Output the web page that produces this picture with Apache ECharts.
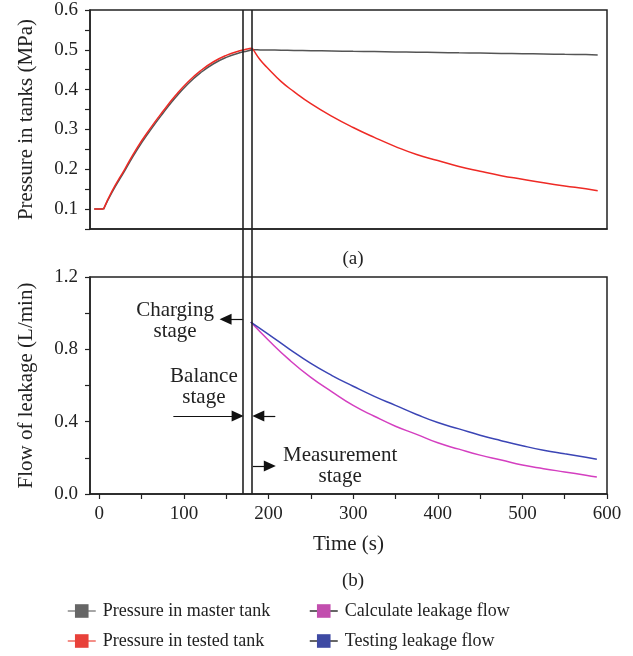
<!DOCTYPE html>
<html>
<head>
<meta charset="utf-8">
<script src="https://cdn.jsdelivr.net/npm/echarts@6/dist/echarts.min.js"></script>
<style>html,body{margin:0;padding:0;background:#fff;}#c{width:633px;height:656px;}</style>
</head>
<body>
<div id="c"></div>
<script>
// ---- data ----
const timeCharge   = [-6, 5, 15, 30, 45, 60, 75, 90, 105, 120, 135, 150, 165, 175, 180];
const masterCharge = [0.1, 0.1, 0.142, 0.196, 0.25, 0.297, 0.34, 0.38, 0.415, 0.443, 0.465, 0.481, 0.492, 0.497, 0.5];
const testedCharge = [0.1, 0.1, 0.145, 0.2, 0.255, 0.302, 0.345, 0.385, 0.42, 0.448, 0.47, 0.486, 0.497, 0.502, 0.504];
const timeHold     = [181, 190, 200, 215, 230, 250, 275, 300, 325, 350, 375, 400, 425, 450, 475, 500, 525, 550, 575, 589];
const masterHold   = [0.5, 0.4998, 0.4995, 0.499, 0.4985, 0.4978, 0.497, 0.4962, 0.4955, 0.4948, 0.494, 0.4933, 0.4925, 0.4918, 0.491, 0.4902, 0.4895, 0.4887, 0.488, 0.4872];
const testedHold   = [0.503, 0.475, 0.452, 0.42, 0.395, 0.365, 0.333, 0.305, 0.28, 0.257, 0.237, 0.222, 0.207, 0.195, 0.184, 0.175, 0.166, 0.158, 0.151, 0.146];
const timeMeasure  = [179, 200, 225, 250, 275, 300, 325, 350, 375, 400, 425, 450, 475, 500, 525, 550, 575, 588];
const calcFlow     = [0.951, 0.85, 0.74, 0.645, 0.565, 0.49, 0.43, 0.375, 0.33, 0.283, 0.248, 0.215, 0.188, 0.16, 0.14, 0.122, 0.104, 0.094];
const testFlow     = [0.951, 0.883, 0.80, 0.722, 0.655, 0.596, 0.54, 0.49, 0.44, 0.395, 0.36, 0.325, 0.295, 0.267, 0.242, 0.222, 0.203, 0.192];
const stageBounds  = [170, 180];
const xTickValues  = [0, 50, 100, 150, 200, 250, 300, 350, 400, 450, 500, 550, 600];
const xLabelValues = [0, 100, 200, 300, 400, 500, 600];
const seriesNames  = ['Pressure in master tank', 'Pressure in tested tank', 'Calculate leakage flow', 'Testing leakage flow'];
// annotation texts [t, value, text]
const stageTexts = [
  [89.5, 0.958, 'Charging\nstage'],
  [123.6, 0.59, 'Balance\nstage'],
  [284.6, 0.153, 'Measurement\nstage']
];
// annotation arrows [[tFrom, v], [tHead, v]]
const stageArrows = [
  [[170, 0.966], [149.2, 0.966]],
  [[87.5, 0.431], [163.5, 0.431]],
  [[208, 0.431], [187.9, 0.431]],
  [[181.4, 0.155], [201.5, 0.155]]
];

const zip = (xs, ys) => xs.map((x, i) => [x, ys[i]]);
const FONT = 'Liberation Serif';
const TXT = '#222';

const chart = echarts.init(document.getElementById('c'), null, {renderer: 'canvas', devicePixelRatio: 1});

const gridCommon = {left: 90, right: 26, show: true, borderColor: '#222', borderWidth: 1.5, backgroundColor: 'transparent'};
const axLine = {show: true, onZero: false, lineStyle: {color: '#222', width: 1.5}};

function topSeries(name, times, charge, holdTimes, hold, color, itemColor) {
  const common = {name: name, type: 'line', xAxisIndex: 0, yAxisIndex: 0,
    symbol: 'rect', symbolSize: 14, showSymbol: false,
    itemStyle: {color: itemColor}, lineStyle: {color: color, width: 1.5}};
  const pts = zip(times, charge);
  const holdPts = [pts[pts.length - 1]].concat(zip(holdTimes, hold));
  return [
    Object.assign({}, common, {smooth: false, data: pts.slice(0, 2)}),
    Object.assign({}, common, {smooth: true, data: pts.slice(1)}),
    Object.assign({}, common, {smooth: true, data: holdPts})
  ];
}

const option = {
  animation: false,
  backgroundColor: '#fff',
  textStyle: {fontFamily: FONT},
  title: [
    {text: '(a)', left: 348, top: 245, textAlign: 'center', textStyle: {fontFamily: FONT, fontSize: 19, fontWeight: 'normal', color: TXT}},
    {text: '(b)', left: 348, top: 567, textAlign: 'center', textStyle: {fontFamily: FONT, fontSize: 19, fontWeight: 'normal', color: TXT}}
  ],
  grid: [
    Object.assign({top: 10, height: 219}, gridCommon),
    Object.assign({top: 277, height: 217}, gridCommon),
    {left: 90, right: 26, top: 10, height: 484, show: false}
  ],
  xAxis: [
    {type: 'value', gridIndex: 0, min: -11, max: 600,
     axisLine: axLine, axisTick: {show: false}, axisLabel: {show: false}, splitLine: {show: false}},
    {type: 'value', gridIndex: 1, min: -11, max: 600,
     name: 'Time (s)', nameLocation: 'middle', nameGap: 40,
     nameTextStyle: {fontFamily: FONT, fontSize: 21, color: TXT},
     axisLine: axLine,
     axisTick: {show: true, inside: false, length: 5, customValues: xTickValues, lineStyle: {color: '#222', width: 1.2}},
     axisLabel: {show: true, customValues: xLabelValues, margin: 11, fontFamily: FONT, fontSize: 19, color: TXT},
     splitLine: {show: false}},
    {type: 'value', gridIndex: 2, min: -11, max: 600, show: false}
  ],
  yAxis: [
    {type: 'value', gridIndex: 0, min: 0.05, max: 0.6, interval: 0.05,
     name: 'Pressure in tanks (MPa)', nameLocation: 'middle', nameGap: 53,
     nameTextStyle: {fontFamily: FONT, fontSize: 21, color: TXT},
     axisLine: axLine,
     axisTick: {show: true, inside: false, length: 5, lineStyle: {color: '#222', width: 1.2}},
     axisLabel: {margin: 12, fontFamily: FONT, fontSize: 19, color: TXT,
       formatter: v => (Math.round(v * 100) % 10 === 0 ? v.toFixed(1) : '')},
     splitLine: {show: false}},
    {type: 'value', gridIndex: 1, min: 0, max: 1.2, interval: 0.2,
     name: 'Flow of leakage (L/min)', nameLocation: 'middle', nameGap: 53,
     nameTextStyle: {fontFamily: FONT, fontSize: 21, color: TXT},
     axisLine: axLine,
     axisTick: {show: true, inside: false, length: 5, lineStyle: {color: '#222', width: 1.2}},
     axisLabel: {margin: 12, fontFamily: FONT, fontSize: 19, color: TXT,
       formatter: v => (Math.round(v * 10) % 4 === 0 ? v.toFixed(1) : '')},
     splitLine: {show: false}},
    {type: 'value', gridIndex: 2, min: 0, max: 1, show: false}
  ],
  legend: [
    {left: 62, top: 597, orient: 'vertical', itemWidth: 28, itemHeight: 17, itemGap: 12,
     textStyle: {fontFamily: FONT, fontSize: 18, color: TXT, padding: [0, 0, 0, 2]},
     data: [
       {name: seriesNames[0], itemStyle: {color: '#666'}, lineStyle: {color: '#888', width: 1.5}},
       {name: seriesNames[1], itemStyle: {color: '#e8413a'}, lineStyle: {color: '#f06a60', width: 1.5}}
     ]},
    {left: 304, top: 597, orient: 'vertical', itemWidth: 28, itemHeight: 17, itemGap: 12,
     textStyle: {fontFamily: FONT, fontSize: 18, color: TXT, padding: [0, 0, 0, 2]},
     data: [
       {name: seriesNames[2], itemStyle: {color: '#c24eae'}, lineStyle: {color: '#333', width: 1.5}},
       {name: seriesNames[3], itemStyle: {color: '#3e4aa3'}, lineStyle: {color: '#333', width: 1.5}}
     ]}
  ],
  series: [].concat(
    topSeries(seriesNames[0], timeCharge, masterCharge, timeHold, masterHold, '#555', '#666'),
    topSeries(seriesNames[1], timeCharge, testedCharge, timeHold, testedHold, '#ee2a25', '#e8413a'),
    [
    {name: seriesNames[2], type: 'line', xAxisIndex: 1, yAxisIndex: 1, smooth: true,
     symbol: 'rect', symbolSize: 14, showSymbol: false,
     itemStyle: {color: '#c24eae'}, lineStyle: {color: '#d43fc0', width: 1.5},
     data: zip(timeMeasure, calcFlow)},
    {name: seriesNames[3], type: 'line', xAxisIndex: 1, yAxisIndex: 1, smooth: true,
     symbol: 'rect', symbolSize: 14, showSymbol: false,
     itemStyle: {color: '#3e4aa3'}, lineStyle: {color: '#3b45b5', width: 1.5},
     data: zip(timeMeasure, testFlow),
     markLine: {silent: true, symbol: ['none', 'path://M5,0 L10,11 L0,11 Z'], symbolSize: [11, 12],
       label: {show: false}, lineStyle: {color: '#111', type: 'solid', width: 1.2},
       emphasis: {disabled: true},
       data: stageArrows.map(a => [{coord: a[0]}, {coord: a[1]}])},
     markPoint: {silent: true, symbol: 'circle', symbolSize: 1, itemStyle: {color: 'rgba(0,0,0,0)'},
       label: {show: true, position: 'inside', formatter: '{b}', fontFamily: FONT, fontSize: 21, color: TXT, lineHeight: 21},
       data: stageTexts.map(s => ({name: s[2], coord: [s[0], s[1]]}))}},
    {name: 'bounds', type: 'line', xAxisIndex: 2, yAxisIndex: 2, data: [],
     markLine: {silent: true, symbol: ['none', 'none'], label: {show: false},
       lineStyle: {color: '#222', type: 'solid', width: 1.6},
       emphasis: {disabled: true},
       data: stageBounds.map(b => ({xAxis: b}))}}
    ])
};
chart.setOption(option);
</script>
</body>
</html>
